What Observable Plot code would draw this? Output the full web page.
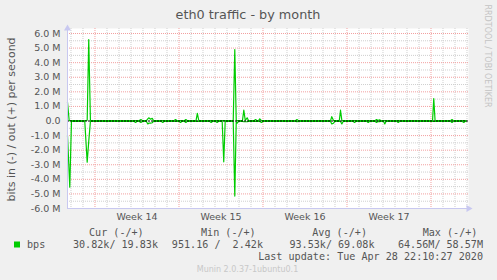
<!DOCTYPE html>
<html><head><meta charset="utf-8">
<script src="https://cdn.jsdelivr.net/npm/d3@7"></script>
<script src="https://cdn.jsdelivr.net/npm/@observablehq/plot@0.6"></script>
<style>
html,body{margin:0;padding:0;background:#f0f0f0;}
#wrap{position:relative;width:497px;height:280px;overflow:hidden;background:#f0f0f0;font-family:"DejaVu Sans",sans-serif;}
#wrap > svg{position:absolute;left:0;top:0;}
</style></head><body><div id="wrap"></div>
<script>
// time in days relative to Monday of week 14 (2020-03-30 00:00)
const days = [
  -2.29,-2.15,-2.10,-1.96,-0.85,-0.65,-0.52,-0.38,3.28,3.38,
  3.48,3.69,3.83,3.93,4.29,4.40,4.48,4.63,4.77,4.88,
  5.55,5.65,5.75,6.61,6.71,6.82,7.03,7.13,7.23,7.47,
  7.57,7.67,8.42,8.53,8.65,9.58,9.68,9.78,10.08,10.18,
  10.28,10.60,10.73,10.85,11.52,11.65,11.77,11.85,11.96,12.29,
  12.40,12.52,12.68,12.79,13.28,13.38,13.48,13.63,13.73,13.88,
  13.98,16.73,16.83,16.93,19.63,19.73,19.88,19.98,20.36,20.46,
  20.57,20.68,21.53,21.63,21.73,22.67,22.77,22.87,23.36,23.46,
  23.58,23.71,23.81,24.05,24.15,24.25,25.17,25.27,25.37,28.13,
  28.23,28.34,29.65,29.75,29.85,30.62,30.73,30.83,30.92
];
// bits out per second (millions), plotted positive
const outMbps = [
  1.29,0.03,0.03,0.03,0.03,0.05,5.59,0.03,0.03,0.03,
  0.03,0.03,0.10,0.03,0.03,0.15,0.22,0.12,0.18,0.03,
  0.03,0.03,0.03,0.03,0.10,0.03,0.03,0.03,0.03,0.03,
  0.10,0.03,0.03,0.52,0.03,0.03,0.03,0.03,0.03,0.03,
  0.03,0.03,0.03,0.03,0.03,4.90,0.05,0.03,0.03,0.03,
  0.74,0.05,0.22,0.03,0.03,0.10,0.03,0.03,0.15,0.03,
  0.03,0.03,0.10,0.03,0.03,0.30,0.03,0.03,0.03,0.74,
  0.05,0.03,0.03,0.03,0.03,0.03,0.03,0.03,0.03,0.10,
  0.03,0.08,0.03,0.03,0.03,0.03,0.03,0.03,0.03,0.03,
  1.54,0.03,0.03,0.10,0.03,0.03,0.03,0.03,0.03
];
// bits in per second (millions), plotted negative
const inMbps = [
  1.00,3.60,4.54,0.03,0.03,2.82,1.40,0.03,0.03,0.10,
  0.03,0.03,0.10,0.03,0.03,0.20,0.15,0.15,0.12,0.03,
  0.03,0.10,0.03,0.03,0.03,0.03,0.03,0.10,0.03,0.03,
  0.10,0.03,0.03,0.03,0.03,0.03,0.10,0.03,0.03,0.10,
  0.03,0.03,2.80,0.03,0.03,5.15,0.05,0.15,0.03,0.03,
  0.05,0.05,0.05,0.03,0.03,0.03,0.03,0.03,0.03,0.10,
  0.03,0.03,0.05,0.03,0.03,0.20,0.15,0.03,0.03,0.03,
  0.20,0.03,0.03,0.10,0.03,0.03,0.10,0.03,0.03,0.10,
  0.03,0.05,0.03,0.03,0.20,0.03,0.03,0.10,0.03,0.03,
  0.03,0.03,0.03,0.10,0.03,0.03,0.10,0.03,0.03
];
const yTicks = [-6,-5,-4,-3,-2,-1,0,1,2,3,4,5,6];
const yTickLabels = ["-6.0 M","-5.0 M","-4.0 M","-3.0 M","-2.0 M","-1.0 M","0.0","1.0 M","2.0 M","3.0 M","4.0 M","5.0 M","6.0 M"];
const weekStarts = [0,7,14,21,28];
const weekLabels = ["Week 14","Week 15","Week 16","Week 17"];
const legendHeaders = ["Cur (-/+)","Min (-/+)","Avg (-/+)","Max (-/+)"];
const legendValues = ["30.82k/ 19.83k","951.16 /  2.42k","93.53k/ 69.08k","64.56M/ 58.57M"];
const seriesName = "bps";
const lastUpdate = "Last update: Tue Apr 28 22:10:27 2020";
const title = "eth0 traffic - by month";
const yTitle = "bits in (-) / out (+) per second";
const footer = "Munin 2.0.37-1ubuntu0.1";
const watermark = "RRDTOOL / TOBI OETIKER";

const xDomain = [-2.29, 31.125];
const yDomain = [-6, 6.343];
const green = "#00cc00";
const lav = "#c8c8f0";
const gridGray = "#cfcfcf";
const gridRed = "#f2a0a0";

const outSeries = days.map((d, i) => ({day: d, v: outMbps[i]}));
const inSeries = days.map((d, i) => ({day: d, v: -inMbps[i]}));
const dayGrid = d3.range(Math.ceil(xDomain[0]), Math.floor(xDomain[1]) + 1).filter(d => !weekStarts.includes(d));
const halfGrid = yTicks.slice(0, -1).map(t => t + 0.5);
const weekMid = weekLabels.map((_, i) => weekStarts[i] + 3.5);

const plot = Plot.plot({
  width: 497, height: 225,
  marginLeft: 67, marginRight: 29, marginTop: 28, marginBottom: 17,
  style: {background: "transparent", fontFamily: "DejaVu Sans", color: "#555"},
  x: {domain: xDomain, axis: null, label: null},
  y: {domain: yDomain, axis: null, label: null},
  marks: [
    Plot.frame({fill: "white", stroke: null}),
    Plot.ruleX(dayGrid, {stroke: gridGray, strokeDasharray: "1,1"}),
    Plot.ruleY(halfGrid, {stroke: gridGray, strokeDasharray: "1,1"}),
    Plot.ruleX(weekStarts, {stroke: gridRed, strokeDasharray: "1,1"}),
    Plot.ruleY(yTicks.filter(t => t !== 0), {stroke: gridRed, strokeDasharray: "1,1"}),
    Plot.line(inSeries, {x: "day", y: "v", stroke: green, strokeWidth: 1.2}),
    Plot.line(outSeries, {x: "day", y: "v", stroke: green, strokeWidth: 1.2}),
    Plot.ruleY([0], {stroke: "black", strokeWidth: 1, strokeDasharray: "2,1"}),
    Plot.ruleX([xDomain[0]], {stroke: lav}),
    Plot.ruleY([yDomain[0]], {stroke: lav}),
    Plot.dot([[xDomain[0], yDomain[1]]], {x: d => d[0], y: d => d[1], symbol: "triangle", r: 2.6, fill: lav, stroke: null}),
    Plot.dot([[xDomain[1], yDomain[0]]], {x: d => d[0], y: d => d[1], symbol: "triangle", r: 2.6, fill: lav, stroke: null, rotate: 90}),
    Plot.axisY({ticks: yTicks, tickFormat: (d) => yTickLabels[yTicks.indexOf(d)], tickSize: 0, tickPadding: 7, fontSize: 9.5, fill: "#555", label: null}),
    Plot.axisX({ticks: weekMid, tickFormat: (d) => weekLabels[weekMid.indexOf(d)], tickSize: 0, tickPadding: 5, fontSize: 9.5, fill: "#555", label: null})
  ]
});
const wrap = document.getElementById("wrap");
wrap.appendChild(plot);

// overlay for title, y title, legend and credits
const ns = "http://www.w3.org/2000/svg";
const ov = document.createElementNS(ns, "svg");
ov.setAttribute("width", 497); ov.setAttribute("height", 280);
ov.style.pointerEvents = "none";
function txt(s, x, y, opts = {}) {
  const t = document.createElementNS(ns, "text");
  t.textContent = s;
  t.setAttribute("x", x); t.setAttribute("y", y);
  t.setAttribute("fill", opts.fill || "#555");
  t.setAttribute("font-size", opts.size || 10);
  t.setAttribute("font-family", opts.family || "DejaVu Sans");
  t.setAttribute("text-anchor", opts.anchor || "start");
  if (opts.baseline) t.setAttribute("dominant-baseline", opts.baseline);
  if (opts.rotate) t.setAttribute("transform", `rotate(${opts.rotate},${x},${y})`);
  t.setAttribute("xml:space", "preserve");
  t.style.whiteSpace = "pre";
  ov.appendChild(t);
}
txt(title, 248, 19, {size: 12.8, anchor: "middle"});
txt(yTitle, 11, 119.5, {size: 11, anchor: "middle", baseline: "central", rotate: -90});
txt(watermark, 487, 56, {size: 8, anchor: "middle", baseline: "central", rotate: 90, fill: "#c4c4c4"});
const mono = "DejaVu Sans Mono";
const headX = [89, 201, 312.3, 422.7];
legendHeaders.forEach((h, i) => txt(h, headX[i], 236, {size: 10.1, family: mono}));
const valEnd = [158, 263, 374.5, 483];
legendValues.forEach((v, i) => txt(v, valEnd[i], 248, {size: 10.1, family: mono, anchor: "end"}));
txt(seriesName, 27, 248, {size: 10.1, family: mono});
txt(lastUpdate, 483, 260, {size: 10.1, family: mono, anchor: "end"});
txt(footer, 247.5, 272, {size: 8, anchor: "middle", fill: "#c8c8c8"});
const sq = document.createElementNS(ns, "rect");
sq.setAttribute("x", 14); sq.setAttribute("y", 241.5); sq.setAttribute("width", 6); sq.setAttribute("height", 6);
sq.setAttribute("fill", green);
ov.appendChild(sq);
wrap.appendChild(ov);
</script></body></html>
